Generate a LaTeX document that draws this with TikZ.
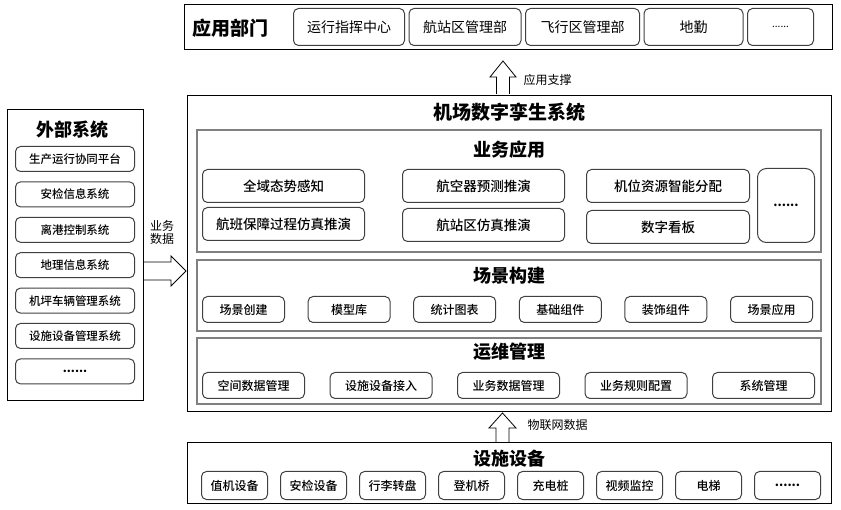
\documentclass[tikz,border=0pt]{standalone}
\usepackage{fontspec}
\setmainfont{Noto Sans CJK SC}
\newfontfamily\medfont{Noto Sans CJK SC Medium}
\usetikzlibrary{positioning}

\begin{document}
\begin{tikzpicture}[
  x=1pt, y=-1pt,
  node distance=9.4pt and 12pt,
  frame/.style={draw=black,line width=0.8pt,anchor=north west,inner sep=0pt},
  layer/.style={draw=black!50,line width=1.6pt,anchor=north west,inner sep=0pt},
  item/.style={draw=black!75,rounded corners=5pt,line width=1pt,inner sep=0pt,align=center,font=\medfont\fontsize{12}{14}\selectfont},
  heading/.style={font=\bfseries\fontsize{18}{20}\selectfont},
  hollow/.style={draw=black,line width=0.8pt},
  note/.style={font=\fontsize{12}{13}\selectfont}
]
\useasboundingbox (0,0) rectangle (841,510);

\node[frame,minimum width=648pt,minimum height=45pt] (dept) at (184,4) {};
\node[heading,font=\bfseries\fontsize{19}{20}\selectfont] (deptT) at (230,28) {应用部门};
\node[item,anchor=north west,minimum width=111pt,minimum height=37pt,font=\fontsize{14}{16}\selectfont] (d1) at (293,8) {运行指挥中心};
\node[item,right=3.5pt of d1,minimum width=112pt,minimum height=37pt,font=\fontsize{14}{16}\selectfont] (d2) {航站区管理部};
\node[item,right=3.5pt of d2,minimum width=114pt,minimum height=37pt,font=\fontsize{14}{16}\selectfont] (d3) {飞行区管理部};
\node[item,right=3.5pt of d3,minimum width=99pt,minimum height=37pt,font=\fontsize{14}{16}\selectfont] (d4) {地勤};
\node[item,right=3.5pt of d4,minimum width=66pt,minimum height=37pt,font=\fontsize{10}{12}\selectfont] (d5) {......};

\draw[hollow] (496.5,94) -- (496.5,77) -- (490,77) -- (503,61) -- (516,77) -- (509.5,77) -- (509.5,94);
\node[note,anchor=west] (support) at (520,80) {应用支撑};

\node[frame,minimum width=644pt,minimum height=316pt] (sys) at (187,95) {};
\node[heading,font=\bfseries\fontsize{19}{20}\selectfont] (sysT) at (509,112) {机场数字孪生系统};

% 业务应用
\node[layer,minimum width=624pt,minimum height=122pt] (app) at (196,129) {};
\node[heading] (appT) at (509,150) {业务应用};
\node[item,anchor=north west,minimum width=162pt,minimum height=33pt,font=\medfont\fontsize{13.5}{15}\selectfont] (a1) at (202,169) {全域态势感知};
\node[item,anchor=north west,minimum width=162pt,minimum height=33pt,font=\medfont\fontsize{13.5}{15}\selectfont] (a2) at (402,169) {航空器预测推演};
\node[item,anchor=north west,minimum width=163pt,minimum height=33pt,font=\medfont\fontsize{13.5}{15}\selectfont] (a3) at (586,169) {机位资源智能分配};
\node[item,below=4pt of a1,minimum width=162pt,minimum height=33pt,font=\medfont\fontsize{13.5}{15}\selectfont] (a4) {航班保障过程仿真推演};
\node[item,below=5pt of a2,minimum width=162pt,minimum height=33pt,font=\medfont\fontsize{13.5}{15}\selectfont] (a5) {航站区仿真推演};
\node[item,below=7pt of a3,minimum width=163pt,minimum height=33pt,font=\medfont\fontsize{13.5}{15}\selectfont] (a6) {数字看板};
\node[item,anchor=north west,minimum width=57pt,minimum height=74pt,rounded corners=9pt,font=\bfseries\fontsize{12}{14}\selectfont] (a7) at (757,168) {......};

% 场景构建
\node[layer,minimum width=624pt,minimum height=71pt] (scene) at (196,259) {};
\node[heading] (sceneT) at (509,276) {场景构建};
\node[item,anchor=north west,minimum width=82pt,minimum height=26pt] (s1) at (202,296) {场景创建};
\node[item,right=22.6pt of s1,minimum width=82pt,minimum height=26pt] (s2) {模型库};
\node[item,right=22.6pt of s2,minimum width=82pt,minimum height=26pt] (s3) {统计图表};
\node[item,right=22.6pt of s3,minimum width=82pt,minimum height=26pt] (s4) {基础组件};
\node[item,right=22.6pt of s4,minimum width=82pt,minimum height=26pt] (s5) {装饰组件};
\node[item,right=22.6pt of s5,minimum width=82pt,minimum height=26pt] (s6) {场景应用};

% 运维管理
\node[layer,minimum width=624pt,minimum height=66pt] (ops) at (196,337) {};
\node[heading] (opsT) at (509,352) {运维管理};
\node[item,anchor=north west,minimum width=102pt,minimum height=26pt] (o1) at (202,372) {空间数据管理};
\node[item,right=24.5pt of o1,minimum width=102pt,minimum height=26pt] (o2) {设施设备接入};
\node[item,right=24.5pt of o2,minimum width=102pt,minimum height=26pt] (o3) {业务数据管理};
\node[item,right=24.5pt of o3,minimum width=102pt,minimum height=26pt] (o4) {业务规则配置};
\node[item,right=24.5pt of o4,minimum width=102pt,minimum height=26pt] (o5) {系统管理};

\draw[hollow] (496,442) -- (496,428) -- (489,428) -- (502.5,413) -- (516,428) -- (509,428) -- (509,442);
\node[note,anchor=west] (iot) at (524,425) {物联网数据};

% 设施设备
\node[frame,minimum width=644pt,minimum height=61pt] (dev) at (187,442) {};
\node[heading] (devT) at (509,459) {设施设备};
\node[item,anchor=north west,minimum width=66pt,minimum height=28pt] (f1) at (201,471) {值机设备};
\node[item,right=of f1,minimum width=66pt,minimum height=28pt] (f2) {安检设备};
\node[item,right=of f2,minimum width=66pt,minimum height=28pt] (f3) {行李转盘};
\node[item,right=of f3,minimum width=66pt,minimum height=28pt] (f4) {登机桥};
\node[item,right=of f4,minimum width=66pt,minimum height=28pt] (f5) {充电桩};
\node[item,right=of f5,minimum width=66pt,minimum height=28pt] (f6) {视频监控};
\node[item,right=of f6,minimum width=66pt,minimum height=28pt] (f7) {电梯};
\node[item,right=of f7,minimum width=66pt,minimum height=28pt,font=\bfseries\fontsize{12}{14}\selectfont] (f8) {......};

% 外部系统
\node[frame,minimum width=136pt,minimum height=291pt] (ext) at (7,109) {};
\node[heading] (extT) at (72,130) {外部系统};
\node[item,anchor=north west,minimum width=119pt,minimum height=25pt,font=\medfont\fontsize{11.5}{13}\selectfont] (e1) at (15,146) {生产运行协同平台};
\node[item,below=of e1,minimum width=119pt,minimum height=25pt,font=\medfont\fontsize{11.5}{13}\selectfont] (e2) {安检信息系统};
\node[item,below=of e2,minimum width=119pt,minimum height=25pt,font=\medfont\fontsize{11.5}{13}\selectfont] (e3) {离港控制系统};
\node[item,below=of e3,minimum width=119pt,minimum height=25pt,font=\medfont\fontsize{11.5}{13}\selectfont] (e4) {地理信息系统};
\node[item,below=of e4,minimum width=119pt,minimum height=25pt,font=\medfont\fontsize{11.5}{13}\selectfont] (e5) {机坪车辆管理系统};
\node[item,below=of e5,minimum width=119pt,minimum height=25pt,font=\medfont\fontsize{11.5}{13}\selectfont] (e6) {设施设备管理系统};
\node[item,below=of e6,minimum width=119pt,minimum height=25pt,font=\bfseries\fontsize{11.5}{13}\selectfont] (e7) {......};

\draw[hollow] (143,262) -- (171,262) -- (171,256) -- (186,271) -- (171,286) -- (171,280) -- (143,280);
\node[note,align=center] (bizdata) at (162,232) {业务\\数据};

\end{tikzpicture}
\end{document}
